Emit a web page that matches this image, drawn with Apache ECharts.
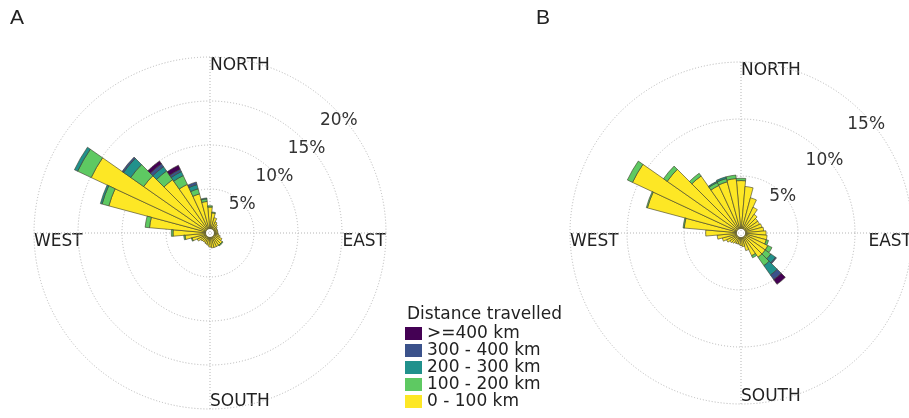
<!DOCTYPE html>
<html><head><meta charset="utf-8">
<script src="https://cdn.jsdelivr.net/npm/echarts@6/dist/echarts.min.js"></script>
<style>html,body{margin:0;padding:0;background:#fff}#c{width:909px;height:418px}</style>
</head><body><div id="c"></div><script>
// Direction sectors (degrees, compass, clockwise from north)
const directions = ['0','10','20','30','40','50','60','70','80','90','100','110','120','130','140','150','160','170',
  '180','190','200','210','220','230','240','250','260','270','280','290','300','310','320','330','340','350'];
const legendNames = ['>=400 km','300 - 400 km','200 - 300 km','100 - 200 km','0 - 100 km'];
const compassLabels = ['NORTH','EAST','SOUTH','WEST'];
const ticksA = [5, 10, 15, 20];
const ticksB = [5, 10, 15];

// Panel A (percent, stacked segments)
const calmA = 0.5;
const yellowA = [2.45,1.8,1.3,0.9,0.7,0.5,0.4,0.4,0.4,0.4,0.5,0.7,1.0,1.2,1.2,1.2,1.2,1.2,1.1,0.9,0.8,0.7,0.7,0.8,1.1,1.6,2.35,3.7,6.4,11.4,14.4,8.7,6.9,5.6,4.1,3.1];
const greenA  = [0.15,0.1,0,0,0,0,0,0,0,0,0,0,0,0.1,0.1,0,0,0,0,0,0,0,0,0,0,0.1,0.15,0.2,0.5,0.8,1.7,1.8,1.2,1.1,0.6,0.3];
const tealA   = [0,0,0,0,0,0,0,0,0,0,0,0,0,0,0,0,0,0,0,0,0,0,0,0,0,0,0,0,0,0.2,0.4,1.0,0.6,0.5,0.5,0.1];
const blueA   = [0,0,0,0,0,0,0,0,0,0,0,0,0,0,0,0,0,0,0,0,0,0,0,0,0,0,0,0,0,0,0,0.2,0.4,0.3,0.3,0];
const purpleA = [0,0,0,0,0,0,0,0,0,0,0,0,0,0,0,0,0,0,0,0,0,0,0,0,0,0,0,0,0,0,0,0,0.4,0.5,0,0];

// Panel B
const calmB = 0.4;
const yellowB = [4.2,3.7,2.8,2.1,1.6,1.4,1.4,1.5,1.6,1.8,1.9,1.9,2.2,2.2,2.2,1.8,1.2,0.8,0.7,0.6,0.6,0.6,0.7,0.8,1.0,1.3,1.7,2.7,4.6,8.1,10.1,7.5,5.7,4.2,4.25,4.4];
const greenB  = [0.2,0,0,0,0,0,0,0,0,0,0,0.2,0.4,0.6,0.9,0.2,0,0,0,0,0,0,0,0,0,0,0,0,0.1,0.1,0.5,0.4,0.3,0.3,0.3,0.3];
const tealB   = [0,0,0,0,0,0,0,0,0,0,0,0,0,0.5,1.0,0,0,0,0,0,0,0,0,0,0,0,0,0,0,0,0,0,0,0.1,0.15,0];
const blueB   = [0,0,0,0,0,0,0,0,0,0,0,0,0,0.1,0.5,0,0,0,0,0,0,0,0,0,0,0,0,0,0,0,0,0,0,0,0,0];
const purpleB = [0,0,0,0,0,0,0,0,0,0,0,0,0,0,0.5,0,0,0,0,0,0,0,0,0,0,0,0,0,0,0,0,0,0,0,0,0];

const colors = {'>=400 km':'#440154','300 - 400 km':'#3b528b','200 - 300 km':'#21918c','100 - 200 km':'#5ec962','0 - 100 km':'#fde725'};

const panels = [
  {cx:210, cy:233, R:176, max:20, ticks:ticksA, calm:calmA, segs:[yellowA,greenA,tealA,blueA,purpleA], letter:'A', lx:10},
  {cx:741, cy:233, R:171, max:15, ticks:ticksB, calm:calmB, segs:[yellowB,greenB,tealB,blueB,purpleB], letter:'B', lx:536}
];

const FONT = 'DejaVu Sans';
const gridLine = {color:'#b5b5b5', width:1, type:[1,2]};
const polar = [], angleAxis = [], radiusAxis = [], series = [], graphic = [];
const stackOrder = ['0 - 100 km','100 - 200 km','200 - 300 km','300 - 400 km','>=400 km'];

panels.forEach((p, k) => {
  const base = k * 4;
  // 0: bars, 1: crosshair, 2: rings, 3: radial tick labels (placed slightly inside the rings)
  for (let j = 0; j < 3; j++) polar.push({center:[p.cx, p.cy], radius:p.R});
  polar.push({center:[p.cx, p.cy], radius:p.R * 0.97});
  angleAxis.push({polarIndex:base, type:'category', data:directions, startAngle:95, clockwise:true,
    axisLine:{show:false}, axisTick:{show:false}, axisLabel:{show:false}, splitLine:{show:false}, z:1});
  radiusAxis.push({polarIndex:base, type:'value', min:0, max:p.max, show:false});
  angleAxis.push({polarIndex:base+1, type:'value', min:0, max:360, interval:90, startAngle:90,
    axisLine:{show:false}, axisTick:{show:false}, axisLabel:{show:false}, splitLine:{show:true, lineStyle:gridLine}, z:0});
  radiusAxis.push({polarIndex:base+1, type:'value', min:0, max:p.max, show:false});
  angleAxis.push({polarIndex:base+2, type:'value', min:0, max:360, startAngle:41, show:false});
  radiusAxis.push({polarIndex:base+2, type:'value', min:0, max:p.max, interval:5,
    axisLine:{show:false}, axisTick:{show:false}, axisLabel:{show:false},
    splitLine:{show:true, lineStyle:gridLine}, z:0});
  angleAxis.push({polarIndex:base+3, type:'value', min:0, max:360, startAngle:41, show:false});
  radiusAxis.push({polarIndex:base+3, type:'value', min:0, max:p.max, interval:5,
    axisLine:{show:false}, axisTick:{show:false}, splitLine:{show:false},
    axisLabel:{show:true, margin:0, align:'center', verticalAlign:'middle', fontSize:17, fontFamily:FONT, color:'#333',
      formatter:(v) => p.ticks.indexOf(v) >= 0 ? v + '%' : ''}, z:1});

  series.push({type:'bar', name:'calm', coordinateSystem:'polar', polarIndex:base, stack:'s'+k,
    barCategoryGap:'0%', data:directions.map(() => p.calm), itemStyle:{color:'rgba(0,0,0,0)', borderWidth:0},
    silent:true, z:3});
  stackOrder.forEach((nm, si) => {
    series.push({type:'bar', name:nm, coordinateSystem:'polar', polarIndex:base, stack:'s'+k,
      barCategoryGap:'0%', data:p.segs[si].map(v => v > 0 ? v : '-'),
      itemStyle:{color:colors[nm], borderColor:'#3a3a2a', borderWidth:0.6}, z:3});
  });

  const ts = {fontSize:17, fontFamily:FONT, fill:'#222'};
  graphic.push({type:'text', left:p.cx, top:p.cy - p.R, style:Object.assign({text:compassLabels[0]}, ts)});
  graphic.push({type:'text', left:p.cx, top:p.cy + p.R - 16, style:Object.assign({text:compassLabels[2]}, ts)});
  graphic.push({type:'text', left:p.cx - p.R, top:p.cy, style:Object.assign({text:compassLabels[3]}, ts)});
  graphic.push({type:'text', x:p.cx + p.R, y:p.cy, style:Object.assign({text:compassLabels[1], align:'right', verticalAlign:'top'}, ts)});
  graphic.push({type:'text', left:p.lx, top:8, style:{text:p.letter, fontSize:21, fontFamily:'Liberation Sans', fill:'#222'}});
});

graphic.push({type:'text', left:407, top:306, style:{text:'Distance travelled', fontSize:17, fontFamily:FONT, fill:'#222'}});

const chart = echarts.init(document.getElementById('c'), null, {renderer:'canvas'});
chart.setOption({
  animation:false,
  backgroundColor:'#fff',
  polar, angleAxis, radiusAxis, series, graphic,
  legend:{data:legendNames, orient:'vertical', left:405, top:325, height:100, padding:0,
    itemWidth:17, itemHeight:13, itemGap:0, icon:'rect', itemStyle:{borderWidth:0},
    textStyle:{fontSize:17, fontFamily:FONT, color:'#222', lineHeight:17}, selectedMode:false}
});
</script></body></html>
